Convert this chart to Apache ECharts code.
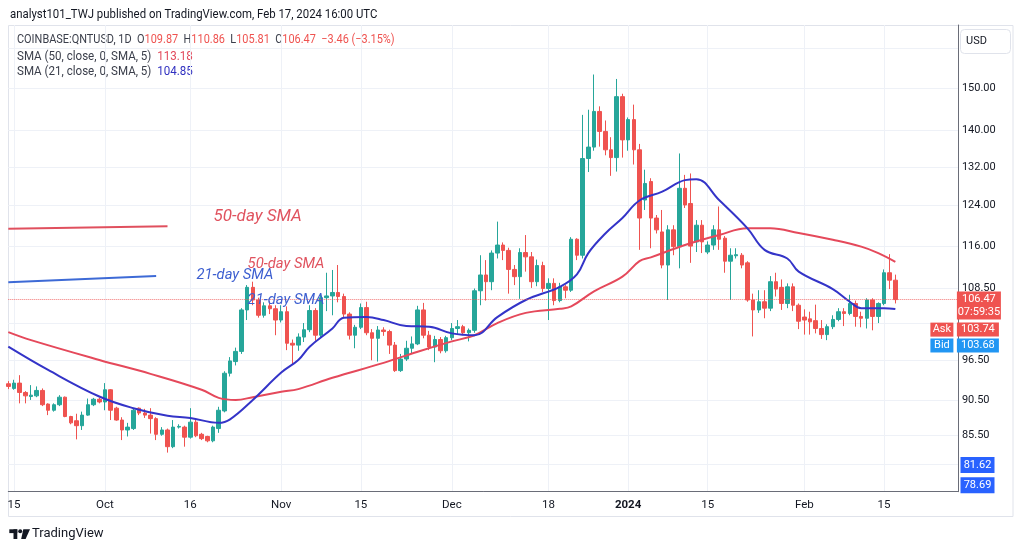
<!DOCTYPE html>
<html><head><meta charset="utf-8">
<script src="https://cdn.jsdelivr.net/npm/echarts@6/dist/echarts.min.js"></script>
<style>html,body{margin:0;padding:0;background:#fff}#c{width:1024px;height:551px}</style>
</head><body><div id="c"></div>
<script>
// ---- data ----
const startDate = [2023, 8, 14]; // Sep 14, 2023 (month 0-based)
const dayCount = 168;            // categories incl. empty right margin
// daily candles: [open, high, low, close]
const candles = [
[92.9,93.3,92.1,92.5],[92.2,93.5,92.0,93.0],[93.0,94.2,90.0,91.6],[91.6,91.8,90.0,91.1],[91.0,92.7,90.5,91.2],
[91.1,92.5,90.9,91.9],[91.9,92.2,89.6,89.8],[89.9,90.0,88.3,89.0],[89.0,90.0,88.8,89.8],[89.8,91.2,89.6,90.9],
[90.9,91.0,88.0,88.1],[88.1,88.2,87.0,87.2],[87.5,88.5,84.9,86.8],[86.8,88.8,86.2,88.3],[88.3,90.7,88.2,89.8],
[89.8,90.8,89.6,90.6],[90.6,90.8,90.0,90.2],[90.2,93.0,89.0,92.0],[92.0,92.1,87.6,89.0],[89.3,89.5,87.5,87.6],
[87.6,88.0,84.8,86.2],[86.2,87.2,85.3,86.6],[86.4,89.3,86.2,89.0],[89.3,89.4,88.3,88.6],[88.6,89.2,87.9,88.3],
[88.3,89.3,85.7,87.8],[87.8,88.0,84.8,85.6],[85.6,86.6,85.4,86.2],[86.2,86.4,83.1,83.9],[83.9,87.6,83.7,86.6],
[86.6,87.0,86.4,86.7],[86.6,86.8,83.9,85.2],[85.2,89.3,85.0,87.3],[87.3,87.6,85.2,85.4],[85.6,85.8,84.8,85.0],
[85.3,85.4,84.5,84.7],[84.7,86.8,84.5,86.6],[86.4,89.5,85.8,89.0],[88.9,94.8,88.7,94.5],[94.5,97.0,94.0,96.4],
[96.3,98.5,95.7,97.9],[97.9,105.0,97.5,104.7],[104.7,109.0,103.0,108.6],[108.6,109.6,105.5,106.4],[106.4,106.8,103.4,103.8],
[103.8,106.0,103.4,105.4],[105.4,106.2,104.0,104.9],[104.9,105.5,100.5,103.0],[103.0,105.5,102.6,104.4],[104.4,105.3,98.1,99.2],
[99.2,99.8,95.8,98.9],[98.9,100.8,98.0,100.2],[100.2,102.5,99.4,101.4],[101.4,105.5,101.0,104.6],[104.6,105.0,99.6,100.5],
[100.5,107.4,100.0,106.8],[106.8,111.2,104.5,107.1],[107.1,111.7,103.8,107.7],[107.7,112.6,106.0,107.0],[107.0,107.5,103.5,104.0],
[104.0,104.3,99.8,100.5],[100.5,102.2,98.4,101.8],[101.8,105.8,101.5,105.1],[105.1,106.1,100.5,100.9],[100.9,101.5,96.5,100.0],
[100.0,102.0,96.3,101.35],[101.35,101.8,100.4,101.1],[101.1,101.4,97.5,98.9],[98.9,99.4,94.7,94.9],[94.9,97.5,94.7,96.7],
[96.7,99.6,96.4,98.4],[98.4,100.3,97.5,99.1],[99.1,105.4,98.9,104.7],[104.7,105.9,100.0,100.5],[100.5,101.2,98.1,98.6],
[98.6,100.4,96.2,99.8],[99.8,100.2,97.6,98.0],[98.0,100.4,97.7,100.1],[100.1,102.5,99.7,101.6],[101.6,103.0,100.7,101.9],
[101.9,102.2,100.5,100.9],[100.9,101.6,99.5,101.3],[101.3,108.4,100.9,108.0],[108.0,114.4,105.5,110.8],[110.8,113.5,106.3,109.6],
[109.6,115.3,108.1,114.8],[114.8,120.8,113.8,116.3],[116.3,116.8,113.5,115.3],[115.3,115.8,107.5,111.8],[111.8,112.6,109.0,110.5],
[110.5,115.7,106.6,114.9],[114.9,118.2,111.4,114.1],[114.1,115.0,108.5,109.6],[109.6,113.6,108.8,112.5],[112.5,113.2,107.8,108.4],
[108.4,110.2,103.0,109.3],[109.3,110.2,105.5,106.3],[106.3,109.4,106.0,108.7],[108.7,109.0,106.7,108.1],[108.1,117.8,107.8,117.4],
[117.4,117.6,113.5,114.4],[114.4,143.6,113.8,133.8],[133.8,144.8,130.9,136.3],[136.3,153.3,135.5,144.4],[144.4,145.6,136.4,139.8],
[139.8,142.3,134.5,135.7],[135.7,138.5,130.1,134.0],[134.0,152.2,131.0,147.9],[147.9,148.6,134.0,137.9],[137.9,143.0,135.5,142.5],
[142.5,146.0,132.5,135.7],[135.7,137.0,115.4,121.5],[125.1,131.4,123.1,128.5],[128.9,129.6,115.7,121.5],[121.5,122.1,118.5,119.2],
[118.8,123.1,112.0,112.6],[112.6,120.1,106.4,119.2],[119.2,120.1,114.4,116.0],[116.0,134.9,112.0,127.5],[127.5,130.3,123.5,124.1],
[124.4,130.6,113.0,116.1],[116.9,121.1,115.0,120.1],[120.1,121.1,114.8,116.9],[115.0,117.0,114.6,116.3],[116.3,120.1,115.4,119.2],
[119.2,123.8,115.4,117.4],[117.6,118.0,111.2,113.3],[113.3,115.7,106.4,114.4],[114.3,115.7,113.8,114.5],[114.4,114.8,112.0,112.6],
[113.0,113.3,106.1,106.4],[106.4,107.5,100.3,104.7],[104.7,108.1,104.2,106.1],[106.1,108.1,103.3,105.0],[105.0,110.6,104.5,109.6],
[109.6,111.2,107.0,108.3],[108.6,110.0,104.7,105.8],[105.8,109.3,105.0,108.7],[108.7,109.3,104.5,105.5],[105.5,105.8,101.5,102.8],
[103.5,104.8,100.6,103.0],[103.2,104.4,100.6,102.7],[102.9,105.6,100.8,101.6],[101.6,103.0,99.9,100.6],[100.6,102.3,99.7,101.9],
[101.9,103.8,101.5,103.1],[103.1,105.0,102.8,104.4],[104.4,105.0,102.0,104.1],[104.1,107.3,103.8,105.8],[105.8,106.3,101.9,103.6],
[103.6,104.4,101.8,103.3],[103.3,106.7,101.6,106.4],[106.4,106.7,101.3,103.6],[103.6,106.0,102.5,105.8],[105.8,111.8,105.5,111.2],
[111.2,114.6,108.3,109.87],[109.87,110.86,105.81,106.47]
];
// SMA readings: [day index, value]
const sma50Points = [[0,101.0],[4,99.7],[16,96.55],[25,94.4],[34,92.0],[37,90.8],[40,90.5],[43,90.9],[48,91.7],[51,92.1],
[57,93.8],[66,96.1],[72,97.85],[78,99.5],[82,100.5],[86,102.5],[91,104.2],[97,104.9],[99,105.3],[103,107.9],[108,110.5],
[111,113.3],[113,114.0],[119,116.3],[125,118.2],[130,119.5],[134,119.5],[139,118.6],[145,117.3],[150,116.0],[153,114.8],[156,113.18]];
const sma21Points = [[0,98.65],[7,95.0],[16,91.0],[22,89.3],[28,88.2],[32,87.9],[37,87.2],[39,87.7],[43,90.5],[48,94.6],
[51,96.55],[53,98.65],[57,101.6],[59,103.4],[63,103.5],[66,103.0],[70,102.0],[74,101.9],[78,100.8],[82,100.5],[86,103.5],
[91,106.4],[97,108.7],[100,110.9],[102,114.8],[105,118.5],[108,121.5],[111,125.0],[115,126.8],[119,129.2],[121,129.4],
[125,125.1],[130,119.5],[133,115.4],[137,113.8],[139,111.4],[145,108.3],[148,106.1],[150,105.0],[154,105.0],[156,104.85]];
const xTickIndex = [1,17,32,48,62,78,95,109,123,140,154];
const xTickText = ['15','Oct','16','Nov','15','Dec','18','2024','15','Feb','15'];
const yTickValues = [150,140,132,124,116,108.5,96.5,90.5,85.5];
const yGridOnly = [160,102.5,81.5];
const lastPrice = 106.47, askPrice = 103.74, bidPrice = 103.68, markA = 81.62, markB = 78.69;
const sma50Drawing = [[0,119.4],[28,119.9]];
const sma21Drawing = [[0,109.5],[26,110.6]];
const noteTexts = [
  {text:'50-day SMA', at:[36,121.7], color:'#e0535f', size:17},
  {text:'50-day SMA', at:[42,112.8], color:'#e0535f', size:14.8},
  {text:'21-day SMA', at:[33,110.8], color:'#3d5fd0', size:14.8},
  {text:'21-day SMA', at:[42,106.4], color:'#3d5fd0', size:14.8}
];

// ---- build ----
const categories = [];
for (let i = 0; i < dayCount; i++) {
  const d = new Date(Date.UTC(startDate[0], startDate[1], startDate[2] + i));
  categories.push(d.toISOString().slice(0,10));
}
const lastIdx = dayCount - 1;
const FF = 'Roboto, "Liberation Sans", sans-serif';
const UP = '#26a69a', DOWN = '#ef5350';

const tag = (value, text, w, h, dx, dy, color) => ({
  coord:[lastIdx, value], symbol:'rect', symbolSize:[w,h], symbolOffset:[dx,dy],
  itemStyle:{color:color},
  label:{show:true, position:'inside', formatter:text, color:'#fff', fontSize:11, fontFamily:FF, lineHeight:13}
});
const note = (n) => ({
  coord:n.at, symbol:'circle', symbolSize:1, itemStyle:{color:'rgba(0,0,0,0)'},
  label:{show:true, position:'right', distance:0, formatter:n.text, color:n.color, fontSize:n.size, fontStyle:'italic', fontFamily:FF}
});

const chart = echarts.init(document.getElementById('c'));
chart.setOption({
  animation:false,
  backgroundColor:'#fff',
  grid:{left:8.3, right:66.1, top:25, bottom:59.3},
  xAxis:{
    type:'category', data:categories, boundaryGap:false,
    axisLine:{show:true, lineStyle:{color:'#6a6d78', width:1}},
    axisTick:{show:false},
    axisLabel:{
      interval:(idx)=>xTickIndex.includes(idx),
      formatter:(v, idx)=>{ const k = xTickIndex.indexOf(idx); if (k<0) return ''; const t = xTickText[k]; return /^\d{4}$/.test(t) ? '{b|'+t+'}' : t; },
      color:'#131722', fontSize:11.5, fontFamily:FF, margin:7,
      rich:{b:{fontWeight:'bold', fontSize:11.5, fontFamily:FF, color:'#131722'}}
    },
    splitLine:{show:true, interval:(idx)=>xTickIndex.includes(idx), lineStyle:{color:'#eef1f7', width:1}}
  },
  yAxis:{
    type:'log', logBase:10, min:78.0, max:166.1, position:'right', scale:true,
    axisLine:{show:true, onZero:false, lineStyle:{color:'#6a6d78', width:1}},
    axisTick:{show:false}, axisLabel:{show:false}, splitLine:{show:false}
  },
  series:[
    { type:'line', name:'grid', data:[], silent:true, z:1,
      markLine:{ silent:true, z:1, symbol:['none','none'], animation:false,
        lineStyle:{color:'#eef1f7', width:1, type:'solid'},
        label:{show:true, position:'end', distance:4, color:'#131722', fontSize:11, fontFamily:FF},
        emphasis:{disabled:true},
        data: yTickValues.map(v=>({yAxis:v, label:{show:true, formatter:v.toFixed(2)}}))
          .concat(yGridOnly.map(v=>({yAxis:v, label:{show:false}})))
      }
    },
    { type:'candlestick', name:'QNTUSD', z:3, barWidth:4,
      data:candles.map(c=>[c[0], c[3], c[2], c[1]]),
      itemStyle:{color:UP, color0:DOWN, borderColor:UP, borderColor0:DOWN, borderWidth:1}
    },
    { type:'line', name:'SMA 50', data:sma50Points, smooth:0.4, showSymbol:false, symbol:'none', z:4,
      lineStyle:{color:'#e5495b', width:2},
      markLine:{ silent:true, z:4, symbol:['none','none'], animation:false,
        lineStyle:{color:'#e0505e', width:2, type:'solid'}, label:{show:false},
        data:[[{coord:sma50Drawing[0]},{coord:sma50Drawing[1]}]] },
      markPoint:{ silent:true, z:6, animation:false,
        data: noteTexts.filter(n=>n.text.startsWith('50')).map(note) }
    },
    { type:'line', name:'SMA 21', data:sma21Points, smooth:0.4, showSymbol:false, symbol:'none', z:4,
      lineStyle:{color:'#3434c8', width:2},
      markLine:{ silent:true, z:4, symbol:['none','none'], animation:false,
        lineStyle:{color:'#3d6ad6', width:2, type:'solid'}, label:{show:false},
        data:[[{coord:sma21Drawing[0]},{coord:sma21Drawing[1]}]] },
      markPoint:{ silent:true, z:6, animation:false,
        data: noteTexts.filter(n=>n.text.startsWith('21')).map(note) }
    },
    { type:'line', name:'tags', data:[], silent:true, z:10, clip:false,
      markLine:{ silent:true, z:5, symbol:['none','none'], animation:false,
        lineStyle:{color:'#ef5350', width:1, type:'dotted', opacity:0.8}, label:{show:false},
        data:[{yAxis:lastPrice}] },
      markPoint:{ silent:true, z:12, animation:false,
        data:[
          tag(lastPrice, lastPrice.toFixed(2)+'\n07:59:35', 44, 28, 21, 6, '#ef5350'),
          tag(askPrice, 'Ask', 23, 14, -16, 14, '#ef5350'),
          tag(askPrice, askPrice.toFixed(2), 42, 14, 20, 14, '#ef5350'),
          tag(bidPrice, 'Bid', 23, 14, -16, 29.5, '#2196f3'),
          tag(bidPrice, bidPrice.toFixed(2), 42, 14, 20, 29.5, '#2196f3'),
          tag(markA, markA.toFixed(2), 34, 16, 19.6, 1.3, '#2962ff'),
          tag(markB, markB.toFixed(2), 34, 16, 19.6, -1, '#2962ff')
        ] }
    }
  ],
  graphic:[
    {type:'rect', silent:true, z:-10, shape:{x:8.5, y:25.5, width:1004.5, height:491}, style:{fill:'none', stroke:'#e0e3eb', lineWidth:1}},
    {type:'text', silent:true, x:10, y:15, scaleX:0.876, style:{text:'analyst101_TWJ published on TradingView.com, Feb 17, 2024 16:00 UTC', fill:'#131722', fontSize:13, fontFamily:FF, verticalAlign:'middle'}},
    {type:'text', silent:true, x:17, y:40, scaleX:0.91, style:{
      text:'{l|COINBASE:QNTUSD, 1D  O}{r|109.87}{l|  H}{r|110.86}{l|  L}{r|105.81}{l|  C}{r|106.47}{r|  \u22123.46 (\u22123.15%)}',
      verticalAlign:'middle',
      rich:{l:{fill:'#3a3e4a', fontSize:12, fontFamily:FF}, r:{fill:'#ef5350', fontSize:12, fontFamily:FF}}}},
    {type:'text', silent:true, x:17, y:56.5, scaleX:0.965, style:{
      text:'{l|SMA (50, close, 0, SMA, 5)  }{r|113.18}', verticalAlign:'middle',
      rich:{l:{fill:'#3a3e4a', fontSize:12, fontFamily:FF}, r:{fill:'#e2495b', fontSize:12, fontFamily:FF}}}},
    {type:'text', silent:true, x:17, y:72, scaleX:0.965, style:{
      text:'{l|SMA (21, close, 0, SMA, 5)  }{r|104.85}', verticalAlign:'middle',
      rich:{l:{fill:'#3a3e4a', fontSize:12, fontFamily:FF}, r:{fill:'#3030c0', fontSize:12, fontFamily:FF}}}},
    {type:'rect', silent:true, z:20, shape:{x:960.5, y:29.5, width:50, height:24, r:4}, style:{fill:'#fff', stroke:'#e0e3eb', lineWidth:1}},
    {type:'text', silent:true, z:21, x:966, y:41.5, style:{text:'USD', fill:'#131722', fontSize:11, fontFamily:FF, verticalAlign:'middle'}},
    {type:'group', silent:true, children:[
      {type:'rect', shape:{x:9.3, y:529.3, width:8, height:3.8}, style:{fill:'#131722'}},
      {type:'rect', shape:{x:13.5, y:529.3, width:3.8, height:9.7}, style:{fill:'#131722'}},
      {type:'circle', shape:{cx:20.2, cy:531.3, r:2}, style:{fill:'#131722'}},
      {type:'polygon', shape:{points:[[23.3,529.3],[30,529.3],[25.6,539],[21.2,539]]}, style:{fill:'#131722'}},
      {type:'text', x:32, y:534, style:{text:'TradingView', fill:'#131722', fontSize:13, fontFamily:FF, verticalAlign:'middle'}}
    ]}
  ]
});
</script>
</body></html>
